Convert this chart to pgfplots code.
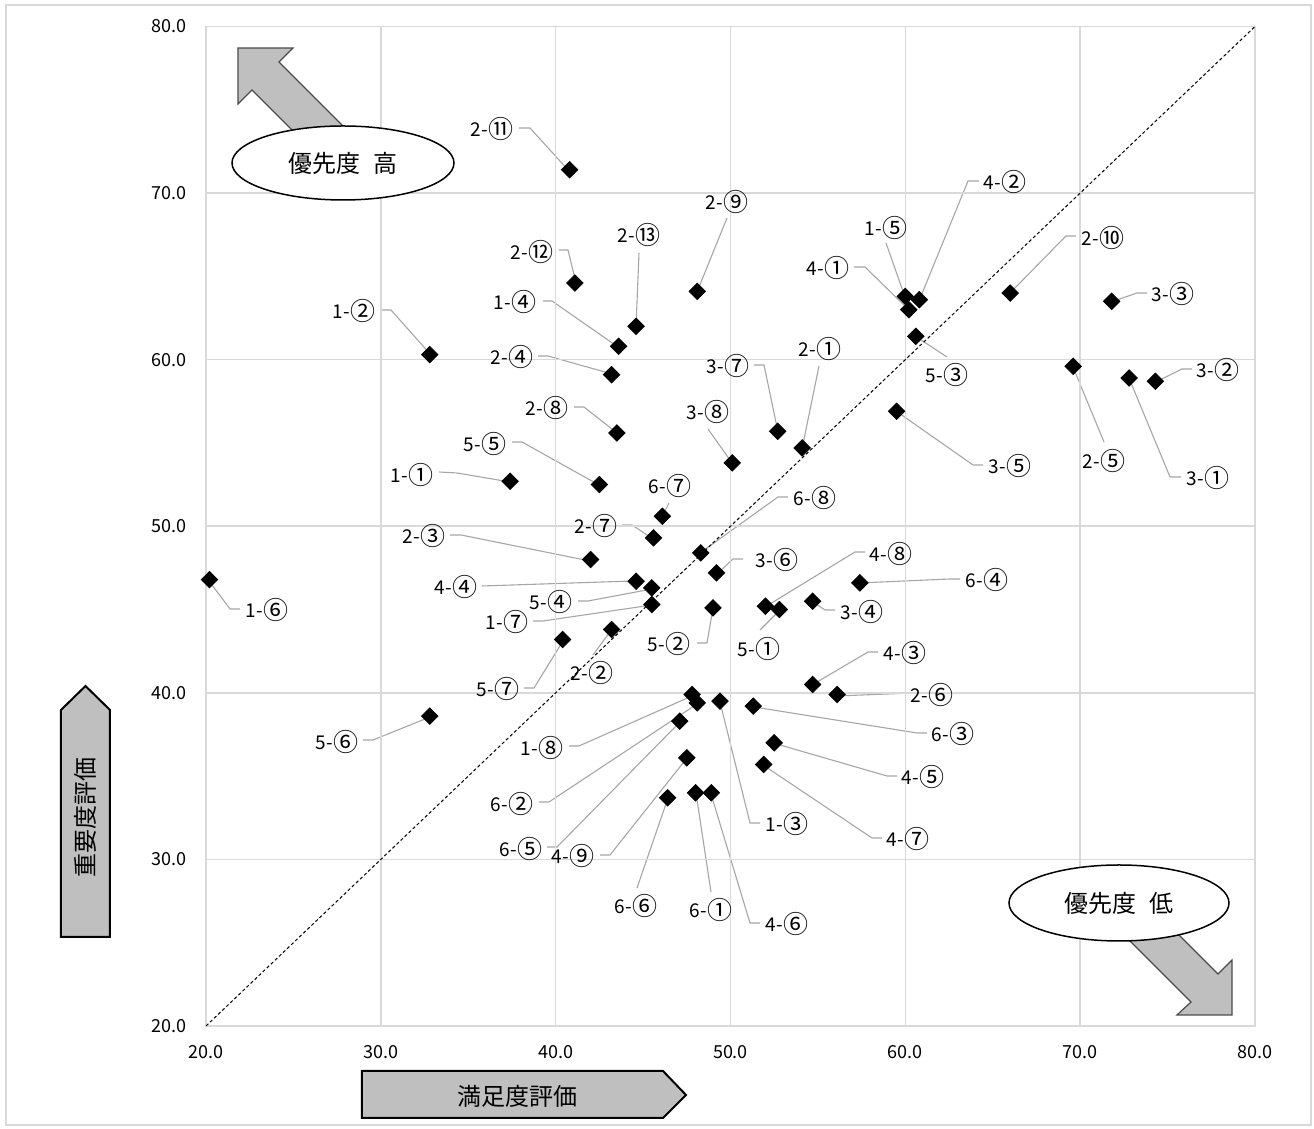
\documentclass[border=0pt]{standalone}
\usepackage{fontspec}
\setmainfont{Noto Sans CJK JP}
\usepackage{pgfplots}
\pgfplotsset{compat=1.18}
\definecolor{gridc}{HTML}{D9D9D9}
\definecolor{ldc}{HTML}{A6A6A6}
\definecolor{arrowfill}{HTML}{BFBFBF}
\newcommand\lf{\fontsize{9.5}{11}\selectfont}
\def\splitlab#1-#2\relax{#1-\raisebox{-0.9pt}{\fontsize{12.5}{12}\selectfont #2}}
\newcommand\lbl[3]{\node[font=\lf, inner sep=0pt] at (#1,#2) {\splitlab#3\relax};}
\begin{document}
\begin{tikzpicture}
\path[use as bounding box] (-103pt,-51.5pt) rectangle (554pt,513pt);
\begin{scope}[x=0.5pt,y=-0.5pt,shift={(-103pt,513pt)}, ld/.style={draw=ldc, line width=0.55pt}]
\draw[gridc, line width=0.75pt] (6,5) rectangle (1311,1125);
\draw[ld] (439,472)--(457,473)--(510,482);
\draw[ld] (382,310)--(391,310)--(431,355);
\draw[ld] (760,823)--(750,823)--(720,702);
\draw[ld] (543,301)--(552,301)--(618,347);
\draw[ld] (886,243)--(905,297);
\draw[ld] (240,609)--(230,609)--(209,581);
\draw[ld] (533,621)--(543,621)--(652,605);
\draw[ld] (569,746)--(579,746)--(692,696);
\draw[ld] (819,366)--(802,449);
\draw[ld] (593,655)--(612,629);
\draw[ld] (450,535)--(461,535)--(590,561);
\draw[ld] (538,356)--(548,356)--(612,374);
\draw[ld] (1104,442)--(1073,367);
\draw[ld] (913,693)--(837,696);
\draw[ld] (622,525)--(632,525)--(653,539);
\draw[ld] (574,407)--(584,407)--(617,433);
\draw[ld] (727,218)--(697,292);
\draw[ld] (1076,236)--(1066,236)--(1010,293);
\draw[ld] (519,128)--(530,128)--(569,171);
\draw[ld] (559,250)--(568,250)--(576,283);
\draw[ld] (639,253)--(636,327);
\draw[ld] (1181,477)--(1170,477)--(1129,378);
\draw[ld] (1192,369)--(1182,369)--(1156,382);
\draw[ld] (1147,293)--(1137,293)--(1111,302);
\draw[ld] (835,610)--(825,610)--(813,602);
\draw[ld] (983,465)--(973,465)--(896,411);
\draw[ld] (743,559)--(733,559)--(717,574);
\draw[ld] (754,365)--(764,365)--(778,432);
\draw[ld] (708,429)--(732,463);
\draw[ld] (854,267)--(865,267)--(908,309);
\draw[ld] (979,181)--(968,181)--(919,301);
\draw[ld] (878,652)--(868,652)--(812,685);
\draw[ld] (482,586)--(633,581);
\draw[ld] (897,776)--(887,776)--(773,743);
\draw[ld] (760,923)--(750,923)--(711,794);
\draw[ld] (882,838)--(872,838)--(763,765);
\draw[ld] (865,552)--(855,552)--(765,607);
\draw[ld] (600,855)--(610,855)--(687,758);
\draw[ld] (760,630)--(780,610);
\draw[ld] (697,643)--(707,643)--(713,608);
\draw[ld] (947,357)--(915,336);
\draw[ld] (578,601)--(588,601)--(652,589);
\draw[ld] (512,442)--(522,442)--(599,485);
\draw[ld] (363,740)--(373,740)--(430,717);
\draw[ld] (524,688)--(534,688)--(563,641);
\draw[ld] (711,892)--(696,793);
\draw[ld] (539,802)--(549,802)--(697,704);
\draw[ld] (927,733)--(917,733)--(754,707);
\draw[ld] (960,579)--(950,579)--(859,583);
\draw[ld] (547,847)--(557,847)--(680,722);
\draw[ld] (637,888)--(668,798);
\draw[ld] (669,503)--(662,517);
\draw[ld] (788,497)--(778,497)--(700,553);
\end{scope}
\begin{axis}[at={(0,0)}, anchor=south west, scale only axis,
  width=524.5pt, height=499.75pt,
  xmin=20, xmax=80, ymin=20, ymax=80,
  xtick={20,30,...,80}, ytick={20,30,...,80},
  grid=major, grid style={gridc, line width=0.75pt},
  axis line style={gridc, line width=0.75pt},
  major tick length=0pt,
  xticklabel={\pgfmathprintnumber[fixed,fixed zerofill,precision=1,assume math mode=true]{\tick}},
  yticklabel={\pgfmathprintnumber[fixed,fixed zerofill,precision=1,assume math mode=true]{\tick}},
  ticklabel style={font=\fontsize{9}{10}\selectfont},
  yticklabel style={anchor=east, xshift=-6pt},
  xticklabel style={anchor=north, yshift=-6pt},
  clip=false]
\addplot[black, dashed, line width=0.5pt, dash pattern=on 1.6pt off 1.2pt] coordinates {(20,20) (80,80)};
\addplot[only marks, mark=square*, mark size=2.9pt, mark options={rotate=45, fill=black, draw=black}] coordinates {
(37.4,52.7) (32.8,60.3) (49.4,39.5) (43.6,60.8) (60.0,63.8) (20.2,46.8) (45.5,45.3) (47.8,39.9)
(54.1,54.7) (43.2,43.8) (42.0,48.0) (43.2,59.1) (69.6,59.6) (56.1,39.9) (45.6,49.3) (43.5,55.6)
(48.1,64.1) (66.0,64.0) (40.8,71.4) (41.1,64.6) (44.6,62.0)
(72.8,58.9) (74.3,58.7) (71.8,63.5) (54.7,45.5) (59.5,56.9) (49.2,47.2) (52.7,55.7) (50.1,53.8)
(60.2,63.0) (60.8,63.6) (54.7,40.5) (44.6,46.7) (52.5,37.0) (48.9,34.0) (51.9,35.7) (52.0,45.2) (47.5,36.1)
(52.8,45.0) (49.0,45.1) (60.6,61.4) (45.5,46.3) (42.5,52.5) (32.8,38.6) (40.4,43.2)
(48.0,34.0) (48.1,39.4) (51.3,39.2) (57.4,46.6) (47.1,38.3) (46.4,33.7) (46.1,50.6) (48.3,48.4)
};
\end{axis}
\begin{scope}[x=0.5pt,y=-0.5pt,shift={(-103pt,513pt)}]
\lbl{412}{475}{1-①}
\lbl{354}{311}{1-②}
\lbl{787}{824}{1-③}
\lbl{515}{302}{1-④}
\lbl{886}{228}{1-⑤}
\lbl{267}{610}{1-⑥}
\lbl{507}{622}{1-⑦}
\lbl{542}{748}{1-⑧}
\lbl{820}{349}{2-①}
\lbl{592}{673}{2-②}
\lbl{424}{536}{2-③}
\lbl{512}{357}{2-④}
\lbl{1104}{461}{2-⑤}
\lbl{932}{695}{2-⑥}
\lbl{596}{526}{2-⑦}
\lbl{547}{408}{2-⑧}
\lbl{727}{202}{2-⑨}
\lbl{1103}{238}{2-⑩}
\lbl{492}{129}{2-⑪}
\lbl{532}{252}{2-⑫}
\lbl{639}{235}{2-⑬}
\lbl{1208}{478}{3-①}
\lbl{1218}{370}{3-②}
\lbl{1173}{294}{3-③}
\lbl{862}{612}{3-④}
\lbl{1010}{466}{3-⑤}
\lbl{777}{560}{3-⑥}
\lbl{728}{366}{3-⑦}
\lbl{708}{412}{3-⑧}
\lbl{828}{268}{4-①}
\lbl{1005}{182}{4-②}
\lbl{905}{653}{4-③}
\lbl{456}{587}{4-④}
\lbl{923}{777}{4-⑤}
\lbl{787}{924}{4-⑥}
\lbl{908}{839}{4-⑦}
\lbl{891}{554}{4-⑧}
\lbl{573}{856}{4-⑨}
\lbl{759}{649}{5-①}
\lbl{669}{644}{5-②}
\lbl{947}{375}{5-③}
\lbl{551}{602}{5-④}
\lbl{485}{444}{5-⑤}
\lbl{337}{742}{5-⑥}
\lbl{498}{689}{5-⑦}
\lbl{711}{910}{6-①}
\lbl{512}{804}{6-②}
\lbl{953}{734}{6-③}
\lbl{987}{580}{6-④}
\lbl{521}{849}{6-⑤}
\lbl{636}{906}{6-⑥}
\lbl{670}{486}{6-⑦}
\lbl{815}{498}{6-⑧}
% priority arrows
\draw[fill=arrowfill, draw=black!70, line width=0.6pt] (238,48)--(293,48)--(279,62)--(359,142)--(331.5,169.5)--(252,90)--(238,104)--cycle;
\draw[fill=white, draw=black, line width=0.75pt] (343,163) ellipse [x radius=55.5pt, y radius=18.5pt];
\node[font=\fontsize{12}{14}\selectfont] at (343,163) {優先度\hspace{0.55em}高};
\draw[fill=arrowfill, draw=black!70, line width=0.6pt] (1232,1015)--(1177,1015)--(1191,1002)--(1120,931)--(1147.5,903.5)--(1218,974)--(1232,960)--cycle;
\draw[fill=white, draw=black, line width=0.75pt] (1119,903) ellipse [x radius=55pt, y radius=19pt];
\node[font=\fontsize{12}{14}\selectfont] at (1119,903) {優先度\hspace{0.55em}低};
% axis titles
\draw[fill=arrowfill, draw=black, line width=1pt] (61,937)--(110,937)--(110,710)--(85.5,686)--(61,710)--cycle;
\node[rotate=90, font=\fontsize{12}{14}\selectfont] at (85.5,818) {重要度評価};
\draw[fill=arrowfill, draw=black, line width=1pt] (362,1071)--(663,1071)--(686,1095)--(663,1118)--(362,1118)--cycle;
\node[font=\fontsize{12}{14}\selectfont] at (518,1096) {満足度評価};
\end{scope}
\end{tikzpicture}
\end{document}
